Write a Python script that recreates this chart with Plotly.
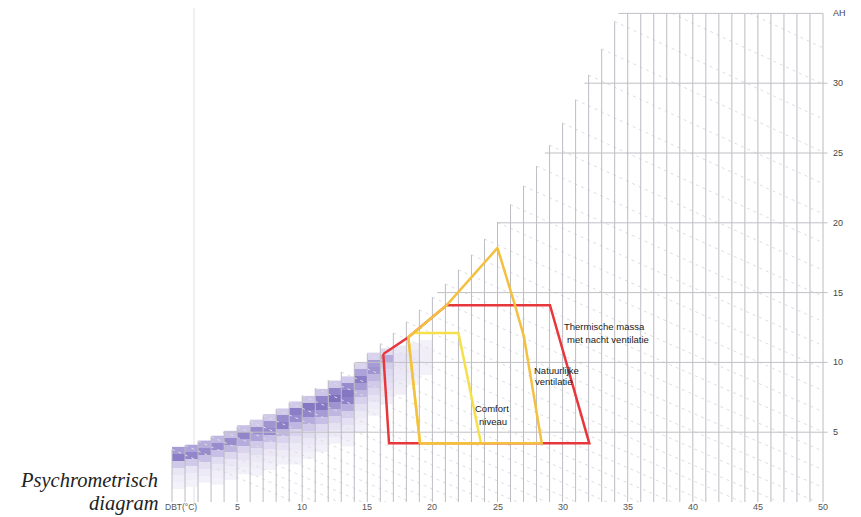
import numpy as np
import plotly.graph_objects as go

# ---------------- data ----------------
# axis ticks
x_tick_values = [5, 10, 15, 20, 25, 30, 35, 40, 45, 50]
x_tick_labels = ["5", "10", "15", "20", "25", "30", "35", "40", "45", "50"]
x_axis_title = "DBT(°C)"
y_tick_values = [5, 10, 15, 20, 25, 30, 35]
y_tick_labels = ["5", "10", "15", "20", "25", "30", "AH"]

# climate frequency cells (1 °C wide columns, 0.5 g/kg cells from the top down)
hm_T = list(range(0, 20))
hm_top = [3.95, 4.1, 4.4, 4.75, 5.1, 5.5, 5.9, 6.3, 6.7, 7.2, 7.6, 8.1, 8.7, 9.0,
          10.0, 10.7, 11.0, 11.2, 11.4, 11.6]
hm_intensity = [
    [0.55, 0.75, 0.3, 0.12, 0.06, 0.03],
    [0.5, 0.7, 0.3, 0.12, 0.06, 0.03],
    [0.45, 0.65, 0.35, 0.16, 0.08, 0.04],
    [0.4, 0.65, 0.35, 0.18, 0.09, 0.05, 0.03],
    [0.35, 0.65, 0.4, 0.22, 0.1, 0.06, 0.03],
    [0.35, 0.7, 0.45, 0.25, 0.13, 0.07, 0.04],
    [0.3, 0.65, 0.5, 0.3, 0.17, 0.09, 0.05, 0.03],
    [0.3, 0.6, 0.65, 0.35, 0.2, 0.1, 0.06, 0.03],
    [0.3, 0.65, 0.75, 0.4, 0.25, 0.13, 0.07, 0.04],
    [0.3, 0.75, 0.65, 0.4, 0.25, 0.15, 0.08, 0.05, 0.03],
    [0.32, 0.8, 0.7, 0.45, 0.3, 0.17, 0.1, 0.06, 0.03],
    [0.32, 0.7, 0.8, 0.55, 0.35, 0.2, 0.12, 0.07, 0.04],
    [0.3, 0.7, 0.85, 0.6, 0.4, 0.25, 0.14, 0.08, 0.04],
    [0.3, 0.65, 0.8, 0.72, 0.45, 0.28, 0.16, 0.09, 0.05, 0.03],
    [0.25, 0.5, 0.75, 0.55, 0.4, 0.26, 0.16, 0.09, 0.05, 0.03],
    [0.25, 0.55, 0.6, 0.4, 0.3, 0.22, 0.13, 0.07, 0.04],
    [0.2, 0.45, 0.28, 0.22, 0.18, 0.13, 0.09, 0.05],
    [0.09, 0.13, 0.13, 0.11, 0.09, 0.07, 0.05],
    [0.05, 0.09, 0.09, 0.07, 0.06, 0.04],
    [0.03, 0.05, 0.05, 0.04, 0.03],
]
hm_cell = 0.5

# strategy zones (DBT °C, AH g/kg)
thermal_T = [16.23, 16.67, 32.05, 29.03, 21.1, 18.15, 16.23]
thermal_AH = [10.6, 4.2, 4.2, 14.1, 14.1, 11.8, 10.6]
natural_T = [19.05, 18.15, 21.1, 25.0, 26.34, 27.03, 28.4, 19.05]
natural_AH = [4.2, 11.8, 14.1, 18.2, 14.1, 11.85, 4.2, 4.2]
comfort_T = [19.05, 18.15, 18.54, 22.0, 23.73, 19.05]
comfort_AH = [4.2, 11.8, 12.1, 12.1, 4.2, 4.2]

# (text, DBT, AH, anchor)
labels = [
    ("Thermische massa", 33.25, 12.55, "center"),
    ("met nacht ventilatie", 33.5, 11.66, "center"),
    ("Natuurlijke", 27.65, 9.45, "left"),
    ("ventilatie", 27.75, 8.6, "left"),
    ("Comfort", 24.6, 6.72, "center"),
    ("niveau", 24.65, 5.8, "center"),
]

# ---------------- psychrometric grid (chart structure) ----------------
P_ATM = 101325.0


def w_sat(t):
    pws = 610.94 * np.exp(17.625 * t / (t + 243.04))
    return 622.0 * pws / (P_ATM - pws)


def wet_bulb_w(t, twb):
    ws = w_sat(twb) / 1000.0
    w = ((2501 - 2.326 * twb) * ws - 1.006 * (t - twb)) / (2501 + 1.86 * t - 4.186 * twb)
    return w * 1000.0


W_MAX = 35.0
T_MAX = 50.0
fine_T = np.linspace(0, 60, 6001)
fine_W = w_sat(fine_T)


def t_of_wsat(w):
    return float(np.interp(w, fine_W, fine_T))


fig = go.Figure()

# heatmap columns
for t0, top, vals in zip(hm_T, hm_top, hm_intensity):
    n = len(vals)
    edges = [top - hm_cell * (n - k) for k in range(n + 1)]
    z = [[v] for v in reversed(vals)]
    fig.add_trace(go.Heatmap(x=[t0, t0 + 1], y=edges, z=z, coloraxis="coloraxis",
                             hoverinfo="skip", zsmooth=False, xgap=0, ygap=0))

# wet-bulb (dashed) lines
dx, dy = [], []
for twb in range(0, 40):
    ts = np.linspace(twb, T_MAX, 800)
    ws = wet_bulb_w(ts, twb)
    mask = (ws >= 0) & (ws <= W_MAX)
    if mask.sum() < 2:
        continue
    dx += list(ts[mask]) + [None]
    dy += list(ws[mask]) + [None]
fig.add_trace(go.Scatter(x=dx, y=dy, mode="lines",
                         line=dict(color="#dedee2", width=1, dash="3px,4px"),
                         hoverinfo="skip", showlegend=False))

# vertical grid lines
vx, vy = [], []
for t in range(0, 51):
    top = min(float(w_sat(t)), W_MAX)
    vx += [t, t, None]
    vy += [0, top, None]
fig.add_trace(go.Scatter(x=vx, y=vy, mode="lines", line=dict(color="#bcbcc3", width=1),
                         hoverinfo="skip", showlegend=False))

# horizontal grid lines
hx, hy = [], []
for w in [5, 10, 15, 20, 25, 30, 35]:
    hx += [t_of_wsat(w), T_MAX + (0.35 if w < 35 else 0), None]
    hy += [w, w, None]
fig.add_trace(go.Scatter(x=hx, y=hy, mode="lines", line=dict(color="#c0c0c6", width=1),
                         hoverinfo="skip", showlegend=False))

# zones
fig.add_trace(go.Scatter(x=thermal_T, y=thermal_AH, mode="lines",
                         line=dict(color="#e8373c", width=2.5), hoverinfo="skip", showlegend=False))
fig.add_trace(go.Scatter(x=comfort_T, y=comfort_AH, mode="lines",
                         line=dict(color="#f5e04c", width=2.5), hoverinfo="skip", showlegend=False))
fig.add_trace(go.Scatter(x=natural_T, y=natural_AH, mode="lines",
                         line=dict(color="#f4c040", width=2.5), hoverinfo="skip", showlegend=False))

# ---------------- layout / pixel mapping ----------------
# the page body adds an 8px offset, so the figure is 8px smaller and shifted
OFF = 8
FIG_W, FIG_H = 861 - OFF, 517 - OFF
px_per_T = 13.02
px_per_W = 13.96
x0_px = 172 - OFF          # T = 0
y0_px = 502 - OFF          # AH = 0
x_range = [-x0_px / px_per_T, (FIG_W - x0_px) / px_per_T]
y_range = [-(FIG_H - y0_px) / px_per_W, y0_px / px_per_W]


def paper_x(win_x):
    return (win_x - OFF) / FIG_W


def paper_y(win_y):
    return 1 - (win_y - OFF) / FIG_H


sans = "Liberation Sans, Arial, sans-serif"
annotations = []
for txt, t, w, anc in labels:
    annotations.append(dict(x=t, y=w, xref="x", yref="y", text=txt, showarrow=False,
                            xanchor=anc,
                            font=dict(family=sans, size=9.5, color="#1a1a1a")))

# x tick labels
for v, lab in zip(x_tick_values, x_tick_labels):
    annotations.append(dict(x=v, y=-0.36, xref="x", yref="y", text=lab, showarrow=False,
                            font=dict(family=sans, size=9, color="#555")))
annotations.append(dict(x=0, y=-0.36, xref="x", yref="y", text=x_axis_title, showarrow=False,
                        xshift=9, font=dict(family=sans, size=8.5, color="#555")))
# right tick labels
for v, lab in zip(y_tick_values, y_tick_labels):
    annotations.append(dict(x=T_MAX, y=v, xref="x", yref="y", text=lab, showarrow=False,
                            xanchor="left", xshift=8,
                            font=dict(family=sans, size=9, color="#444")))

# title text
serif = "Liberation Serif, DejaVu Serif, serif"
annotations.append(dict(x=paper_x(160), y=paper_y(480), xref="paper", yref="paper",
                        text="<i>Psychrometrisch</i>", showarrow=False, xanchor="right",
                        yanchor="middle", font=dict(family=serif, size=20.5, color="#222")))
annotations.append(dict(x=paper_x(160), y=paper_y(503), xref="paper", yref="paper",
                        text="<i>diagram</i>", showarrow=False, xanchor="right",
                        yanchor="middle", font=dict(family=serif, size=20.5, color="#222")))

fig.update_layout(
    width=FIG_W, height=FIG_H,
    margin=dict(l=0, r=0, t=0, b=0),
    paper_bgcolor="white", plot_bgcolor="white",
    showlegend=False,
    xaxis=dict(range=x_range, visible=False, fixedrange=True),
    yaxis=dict(range=y_range, visible=False, fixedrange=True),
    coloraxis=dict(cmin=0, cmax=1, showscale=False,
                   colorscale=[[0, "rgba(255,255,255,0)"], [0.03, "#f3f1f9"], [0.25, "#d9d3ee"],
                               [0.5, "#ada2d9"], [0.75, "#8c7ec6"], [1, "#6f5db2"]]),
    annotations=annotations,
    shapes=[dict(type="line", xref="paper", yref="paper", x0=paper_x(194), x1=paper_x(194),
                 y0=paper_y(505), y1=1, line=dict(color="#ebebef", width=1.5), layer="below")],
)

fig.write_html("out.html")
